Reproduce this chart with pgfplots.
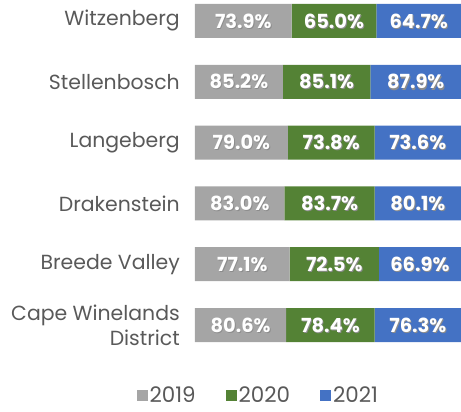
\documentclass[border=0pt]{standalone}
\usepackage{pgfplots}
\pgfplotsset{compat=1.18}
\usepackage{pgfplotstable}
\usepackage{fontspec}
\setmainfont{Poppins}
\definecolor{c19}{HTML}{A5A5A5}
\definecolor{c20}{HTML}{548235}
\definecolor{c21}{HTML}{4472C4}
\definecolor{txt}{HTML}{595959}
\pgfplotstableread{
name v19 v20 v21
CWD 80.6 78.4 76.3
BV 77.1 72.5 66.9
DR 83.0 83.7 80.1
LA 79.0 73.8 73.6
ST 85.2 85.1 87.9
WI 73.9 65.0 64.7
}\data
\pgfplotsset{
  common/.style={at={(0,0)}, anchor=north west,
    scale only axis, width=266bp, height=355.4bp,
    xmin=0, xmax=100, ymin=-0.5, ymax=5.345, clip=false,
    /pgf/number format/assume math mode=true},
  lbl/.style={only marks, mark=*, mark size=0pt, mark options={draw=none, fill=none},
    point meta=explicit, nodes near coords={\pgfmathprintnumber[fixed,fixed zerofill,precision=1]{\pgfplotspointmeta}\%},
    every node near coord/.style={anchor=center, inner sep=0pt, font=\bfseries\fontsize{19.5}{22}\selectfont, text=#1}},
}
\begin{document}
\begin{tikzpicture}
\useasboundingbox (-195bp,0) rectangle (266bp,-412bp);
\begin{axis}[
  common,
  xbar stacked, bar width=34bp,
  axis line style={draw=none},
  xtick=\empty, ytick={0,...,5}, major tick length=0pt,
  yticklabels={{Cape Winelands\\District},Breede Valley,Drakenstein,Langeberg,Stellenbosch,Witzenberg},
  yticklabel style={font=\fontsize{20.5}{25}\selectfont, text=txt, align=right, inner xsep=0pt, xshift=-15bp},
  legend style={at={(0.238,-0.1125)}, anchor=center, draw=none, font=\fontsize{21.5}{24}\selectfont, text=txt,
    /tikz/every even column/.append style={column sep=28bp}},
  legend columns=3,
  legend image code/.code={\path[#1, draw=none] (0bp,-5.5bp) rectangle (11bp,5.5bp);},
]
\addplot[fill=c19, draw=none] table[x expr={\thisrow{v19}/(\thisrow{v19}+\thisrow{v20}+\thisrow{v21})*100}, y expr=\coordindex] {\data};
\addplot[fill=c20, draw=none] table[x expr={\thisrow{v20}/(\thisrow{v19}+\thisrow{v20}+\thisrow{v21})*100}, y expr=\coordindex] {\data};
\addplot[fill=c21, draw=none] table[x expr={\thisrow{v21}/(\thisrow{v19}+\thisrow{v20}+\thisrow{v21})*100}, y expr=\coordindex] {\data};
\legend{2019,2020,2021}
\end{axis}
% value labels: shadow then white text
\begin{axis}[common, hide axis, shift={(0.9bp,-1.1bp)}]
\addplot[lbl=black!45] table[x expr={0.5*\thisrow{v19}/(\thisrow{v19}+\thisrow{v20}+\thisrow{v21})*100}, y expr=\coordindex, meta=v19] {\data};
\addplot[lbl=black!45] table[x expr={(\thisrow{v19}+0.5*\thisrow{v20})/(\thisrow{v19}+\thisrow{v20}+\thisrow{v21})*100}, y expr=\coordindex, meta=v20] {\data};
\addplot[lbl=black!45] table[x expr={(\thisrow{v19}+\thisrow{v20}+0.5*\thisrow{v21})/(\thisrow{v19}+\thisrow{v20}+\thisrow{v21})*100}, y expr=\coordindex, meta=v21] {\data};
\end{axis}
\begin{axis}[common, hide axis]
\addplot[lbl=white] table[x expr={0.5*\thisrow{v19}/(\thisrow{v19}+\thisrow{v20}+\thisrow{v21})*100}, y expr=\coordindex, meta=v19] {\data};
\addplot[lbl=white] table[x expr={(\thisrow{v19}+0.5*\thisrow{v20})/(\thisrow{v19}+\thisrow{v20}+\thisrow{v21})*100}, y expr=\coordindex, meta=v20] {\data};
\addplot[lbl=white] table[x expr={(\thisrow{v19}+\thisrow{v20}+0.5*\thisrow{v21})/(\thisrow{v19}+\thisrow{v20}+\thisrow{v21})*100}, y expr=\coordindex, meta=v21] {\data};
\end{axis}
\end{tikzpicture}
\end{document}
